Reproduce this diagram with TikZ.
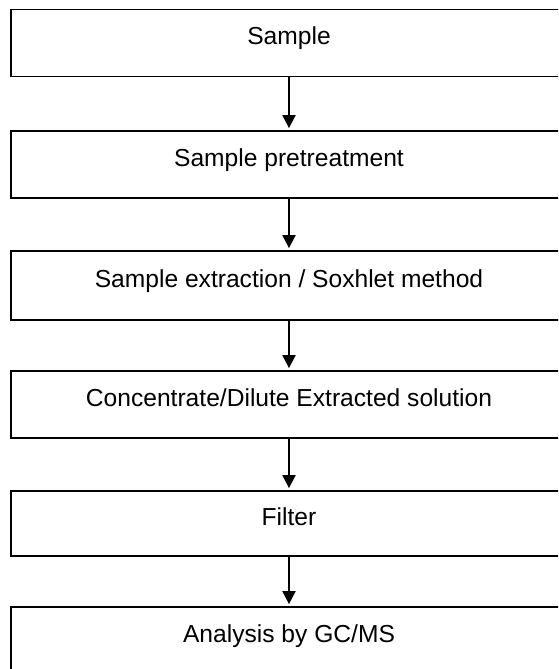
\documentclass[tikz,border=0pt]{standalone}
\usepackage{fontspec}
\setmainfont{Liberation Sans}
\usepackage{tikz}
\usetikzlibrary{
  arrows.meta,
  positioning
}
\tikzset{
  stepnode/.style={
    draw, line width=0.9pt, minimum width=278pt, minimum height=33.5pt,
    inner sep=0pt, font=\fontsize{12.3}{14}\selectfont, align=center,
    text height=8.7pt, text depth=7pt
  },
  flowarrow/.style={-{Triangle[length=6.5pt, width=6.5pt]}, line width=1pt, shorten >=1pt}
}
\begin{document}
\begin{tikzpicture}[x=0.5pt, y=0.5pt]
  \clip (0,0) rectangle (558,-669);
  \node[stepnode] (sample)  at (289,-43)    {Sample};
  \node[stepnode] (pretreat) at (289,-164.5) {Sample pretreatment};
  \node[stepnode, minimum height=34.5pt] (extract) at (289,-285.5) {Sample extraction / Soxhlet method};
  \node[stepnode] (concent) at (289,-404.5) {Concentrate/Dilute Extracted solution};
  \node[stepnode, minimum height=32.5pt] (filter) at (289,-523.5) {Filter};
  \node[stepnode] (analysis) at (289,-640.5) {Analysis by GC/MS};
  % arrows between steps
  \draw[flowarrow] (sample) -- (pretreat);
  \draw[flowarrow] (pretreat) -- (extract);
  \draw[flowarrow] (extract) -- (concent);
  \draw[flowarrow] (concent) -- (filter);
  \draw[flowarrow] (filter) -- (analysis);
\end{tikzpicture}
\end{document}
